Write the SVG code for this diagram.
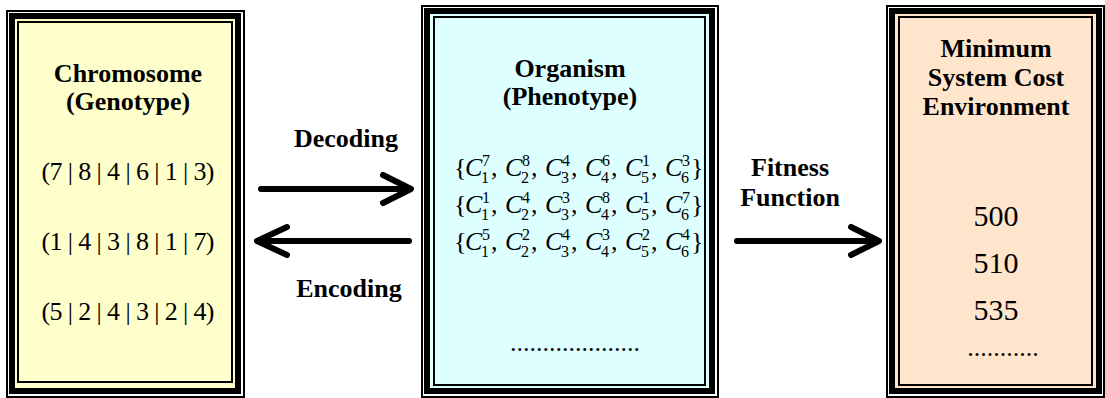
<svg xmlns="http://www.w3.org/2000/svg" width="1105" height="398" viewBox="0 0 1105 398">
  <style>
    .frame-outer { fill: none; stroke: #000; stroke-width: 2; }
    .frame-thick { stroke: #000; stroke-width: 6; }
    .frame-inner { fill: none; stroke: #000; stroke-width: 2; }
    .title { font-family: "Liberation Serif", "Times New Roman", serif; font-weight: bold; font-size: 26px; fill: #000; text-anchor: middle; }
    .val { font-family: "Liberation Serif", "Times New Roman", serif; font-size: 26px; fill: #000; text-anchor: middle; }
    .num { font-family: "Liberation Serif", "Times New Roman", serif; font-size: 30px; fill: #000; text-anchor: middle; }
    .dots { font-family: "Liberation Serif", "Times New Roman", serif; font-size: 26px; fill: #000; text-anchor: middle; }
    .math { font-family: "Liberation Serif", "Times New Roman", serif; font-size: 26px; fill: #000; }
    .math .c { font-style: italic; }
    .math .idx { font-size: 16px; }
    .conn { fill: none; stroke: #000; stroke-width: 6; stroke-linecap: round; stroke-linejoin: round; }
  </style>

  <rect width="1105" height="398" fill="#fff"/>

  <!-- Genotype box -->
  <g id="chromosome">
    <rect class="frame-outer" x="7" y="11" width="237" height="386"/>
    <rect class="frame-thick" x="12" y="16" width="226" height="375" fill="#FFFFCC"/>
    <rect class="frame-inner" x="18" y="22" width="214" height="360"/>
    <text class="title" x="128" y="82">Chromosome</text>
    <text class="title" x="128" y="110">(Genotype)</text>
    <text class="val" x="128" y="180" textLength="173" lengthAdjust="spacing">(7 | 8 | 4 | 6 | 1 | 3)</text>
    <text class="val" x="128" y="250" textLength="173" lengthAdjust="spacing">(1 | 4 | 3 | 8 | 1 | 7)</text>
    <text class="val" x="128" y="320" textLength="173" lengthAdjust="spacing">(5 | 2 | 4 | 3 | 2 | 4)</text>
  </g>

  <!-- Phenotype box -->
  <g id="organism">
    <rect class="frame-outer" x="422" y="6" width="296" height="391"/>
    <rect class="frame-thick" x="427" y="11" width="285" height="380" fill="#DDFFFF"/>
    <rect class="frame-inner" x="434" y="17" width="271" height="368"/>
    <text class="title" x="570" y="77">Organism</text>
    <text class="title" x="570" y="105">(Phenotype)</text>

    <text class="math" y="176">
      <tspan x="454">{</tspan>
      <tspan class="c" x="465">C</tspan><tspan class="idx" x="482" y="166">7</tspan><tspan class="idx" x="481" y="183">1</tspan><tspan x="491" y="176">,</tspan>
      <tspan class="c" x="505">C</tspan><tspan class="idx" x="522" y="166">8</tspan><tspan class="idx" x="521" y="183">2</tspan><tspan x="531" y="176">,</tspan>
      <tspan class="c" x="545">C</tspan><tspan class="idx" x="562" y="166">4</tspan><tspan class="idx" x="561" y="183">3</tspan><tspan x="571" y="176">,</tspan>
      <tspan class="c" x="585">C</tspan><tspan class="idx" x="602" y="166">6</tspan><tspan class="idx" x="601" y="183">4</tspan><tspan x="611" y="176">,</tspan>
      <tspan class="c" x="625">C</tspan><tspan class="idx" x="642" y="166">1</tspan><tspan class="idx" x="641" y="183">5</tspan><tspan x="651" y="176">,</tspan>
      <tspan class="c" x="665">C</tspan><tspan class="idx" x="682" y="166">3</tspan><tspan class="idx" x="681" y="183">6</tspan><tspan x="691" y="176">}</tspan>
    </text>
    <text class="math" y="213">
      <tspan x="454">{</tspan>
      <tspan class="c" x="465">C</tspan><tspan class="idx" x="482" y="203">1</tspan><tspan class="idx" x="481" y="220">1</tspan><tspan x="491" y="213">,</tspan>
      <tspan class="c" x="505">C</tspan><tspan class="idx" x="522" y="203">4</tspan><tspan class="idx" x="521" y="220">2</tspan><tspan x="531" y="213">,</tspan>
      <tspan class="c" x="545">C</tspan><tspan class="idx" x="562" y="203">3</tspan><tspan class="idx" x="561" y="220">3</tspan><tspan x="571" y="213">,</tspan>
      <tspan class="c" x="585">C</tspan><tspan class="idx" x="602" y="203">8</tspan><tspan class="idx" x="601" y="220">4</tspan><tspan x="611" y="213">,</tspan>
      <tspan class="c" x="625">C</tspan><tspan class="idx" x="642" y="203">1</tspan><tspan class="idx" x="641" y="220">5</tspan><tspan x="651" y="213">,</tspan>
      <tspan class="c" x="665">C</tspan><tspan class="idx" x="682" y="203">7</tspan><tspan class="idx" x="681" y="220">6</tspan><tspan x="691" y="213">}</tspan>
    </text>
    <text class="math" y="250">
      <tspan x="454">{</tspan>
      <tspan class="c" x="465">C</tspan><tspan class="idx" x="482" y="240">5</tspan><tspan class="idx" x="481" y="257">1</tspan><tspan x="491" y="250">,</tspan>
      <tspan class="c" x="505">C</tspan><tspan class="idx" x="522" y="240">2</tspan><tspan class="idx" x="521" y="257">2</tspan><tspan x="531" y="250">,</tspan>
      <tspan class="c" x="545">C</tspan><tspan class="idx" x="562" y="240">4</tspan><tspan class="idx" x="561" y="257">3</tspan><tspan x="571" y="250">,</tspan>
      <tspan class="c" x="585">C</tspan><tspan class="idx" x="602" y="240">3</tspan><tspan class="idx" x="601" y="257">4</tspan><tspan x="611" y="250">,</tspan>
      <tspan class="c" x="625">C</tspan><tspan class="idx" x="642" y="240">2</tspan><tspan class="idx" x="641" y="257">5</tspan><tspan x="651" y="250">,</tspan>
      <tspan class="c" x="665">C</tspan><tspan class="idx" x="682" y="240">4</tspan><tspan class="idx" x="681" y="257">6</tspan><tspan x="691" y="250">}</tspan>
    </text>
    <text class="dots" x="575" y="351">....................</text>
  </g>

  <!-- Fitness box -->
  <g id="environment">
    <rect class="frame-outer" x="887" y="6" width="217" height="391"/>
    <rect class="frame-thick" x="892" y="11" width="207" height="380" fill="#FFE5CC"/>
    <rect class="frame-inner" x="899" y="17" width="193" height="368"/>
    <text class="title" x="996" y="57">Minimum</text>
    <text class="title" x="996" y="86">System Cost</text>
    <text class="title" x="996" y="115">Environment</text>
    <text class="num" x="996" y="226">500</text>
    <text class="num" x="996" y="273">510</text>
    <text class="num" x="996" y="320">535</text>
    <text class="dots" x="1003" y="356">...........</text>
  </g>

  <!-- Connectors -->
  <g id="connectors">
    <g id="decoding">
      <path class="conn" d="M261 189 H410 M383 175 L411 189 L383 203"/>
      <text class="title" x="346" y="147">Decoding</text>
    </g>
    <g id="encoding">
      <path class="conn" d="M409 241 H258 M287 227 L257 241 L287 255"/>
      <text class="title" x="349" y="297">Encoding</text>
    </g>
    <g id="fitness">
      <path class="conn" d="M737 241 H878 M851 227 L879 241 L851 255"/>
      <text class="title" x="790" y="176">Fitness</text>
      <text class="title" x="790" y="206">Function</text>
    </g>
  </g>
</svg>
